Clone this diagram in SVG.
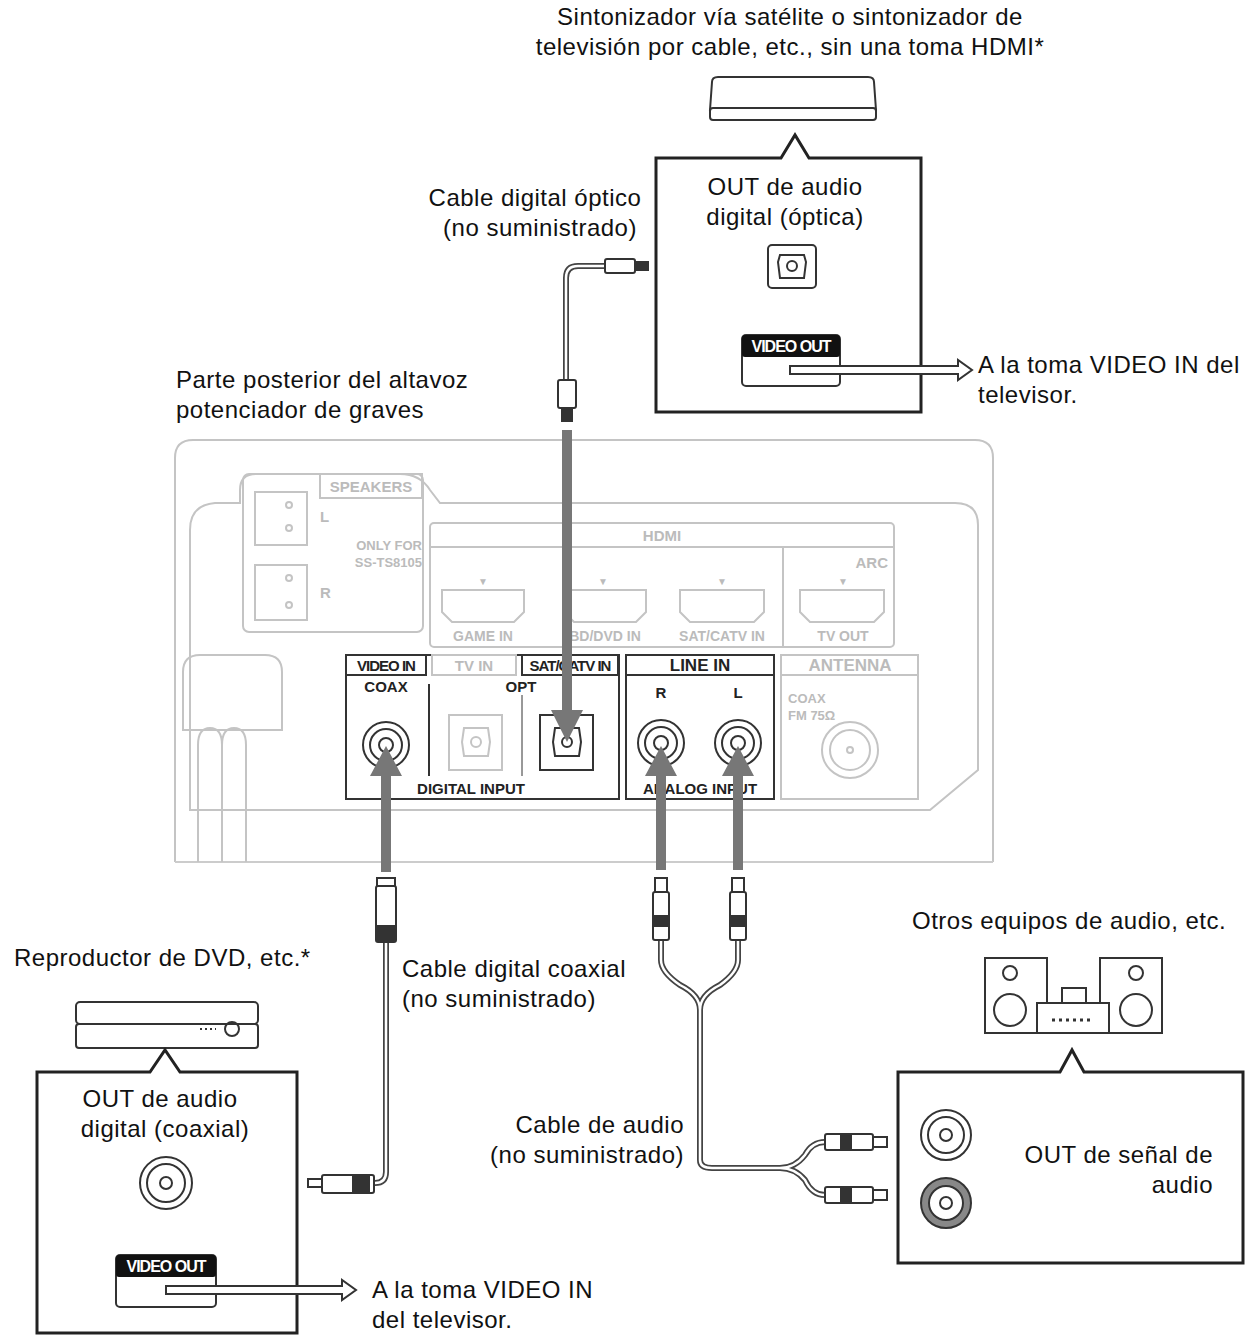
<svg xmlns="http://www.w3.org/2000/svg" width="1254" height="1343" viewBox="0 0 1254 1343">
<style>
.t{font-family:"Liberation Sans",Arial,sans-serif;font-size:24px;letter-spacing:0.5px;fill:#111}
.p{font-family:"Liberation Sans",Arial,sans-serif;font-size:15px;fill:#bbb;font-weight:bold}
.pd{font-family:"Liberation Sans",Arial,sans-serif;font-size:15px;fill:#222;font-weight:bold}
.box{fill:#fff;stroke:#222;stroke-width:3}
.lg{fill:none;stroke:#c4c4c4;stroke-width:2}
.ld{fill:none;stroke:#333;stroke-width:2}
.cab{fill:none;stroke:#444;stroke-width:6}
.cabi{fill:none;stroke:#fff;stroke-width:2.5}
.ga{stroke:#777;stroke-width:10;fill:none}
.gh{fill:#777}
.dev{fill:#fff;stroke:#333;stroke-width:2}
</style>
<rect width="1254" height="1343" fill="#fff"/>

<g id="labels">
<text class="t" x="790" y="25" text-anchor="middle">Sintonizador vía satélite o sintonizador de</text>
<text class="t" x="790" y="55" text-anchor="middle">televisión por cable, etc., sin una toma HDMI*</text>
<text class="t" x="535" y="206" text-anchor="middle">Cable digital óptico</text>
<text class="t" x="540" y="236" text-anchor="middle">(no suministrado)</text>
<text class="t" x="176" y="388">Parte posterior del altavoz</text>
<text class="t" x="176" y="418">potenciador de graves</text>
<text class="t" x="978" y="373">A la toma VIDEO IN del</text>
<text class="t" x="978" y="403">televisor.</text>
<text class="t" x="14" y="966">Reproductor de DVD, etc.*</text>
<text class="t" x="402" y="977">Cable digital coaxial</text>
<text class="t" x="402" y="1007">(no suministrado)</text>
<text class="t" x="912" y="929">Otros equipos de audio, etc.</text>
<text class="t" x="684" y="1133" text-anchor="end">Cable de audio</text>
<text class="t" x="684" y="1163" text-anchor="end">(no suministrado)</text>
<text class="t" x="372" y="1298">A la toma VIDEO IN</text>
<text class="t" x="372" y="1328">del televisor.</text>
</g>

<g id="tuner">
<path class="dev" d="M712,82 Q712,77 718,77 L868,77 Q874,77 874,82 L876,110 L710,110 Z"/>
<rect class="dev" x="710" y="108" width="166" height="12" rx="3"/>
<path class="box" d="M656,158 L781,158 L795,135 L809,158 L921,158 L921,412 L656,412 Z"/>
<text class="t" x="785" y="195" text-anchor="middle">OUT de audio</text>
<text class="t" x="785" y="225" text-anchor="middle">digital (óptica)</text>
<rect x="768" y="245" width="48" height="43" rx="4" fill="#fff" stroke="#333" stroke-width="2"/>
<path d="M780,255 L804,255 L806,262 L804,278 L780,278 L778,262 Z" fill="none" stroke="#333" stroke-width="2"/>
<circle cx="792" cy="266" r="5" fill="none" stroke="#333" stroke-width="2"/>
<rect x="742" y="335" width="98" height="51" rx="4" fill="#fff" stroke="#333" stroke-width="2"/>
<rect x="742" y="335" width="98" height="22" rx="3" fill="#111"/>
<text x="791" y="352" text-anchor="middle" style="font-family:'Liberation Sans',Arial,sans-serif;font-size:16px;font-weight:bold;fill:#fff;letter-spacing:-1px">VIDEO OUT</text>
</g>

<g id="dvd">
<rect class="dev" x="76" y="1002" width="182" height="22" rx="4"/>
<rect class="dev" x="76" y="1024" width="182" height="24" rx="3"/>
<circle cx="232" cy="1029" r="7" fill="none" stroke="#333" stroke-width="2"/>
<line x1="200" y1="1029" x2="216" y2="1029" stroke="#333" stroke-width="2" stroke-dasharray="2 3"/>
<path class="box" d="M37,1072 L150,1072 L165,1050 L180,1072 L297,1072 L297,1333 L37,1333 Z"/>
<text class="t" x="160" y="1107" text-anchor="middle">OUT de audio</text>
<text class="t" x="165" y="1137" text-anchor="middle">digital (coaxial)</text>
<circle cx="166" cy="1183" r="26" fill="none" stroke="#333" stroke-width="2"/>
<circle cx="166" cy="1183" r="19" fill="none" stroke="#333" stroke-width="2"/>
<circle cx="166" cy="1183" r="6" fill="none" stroke="#333" stroke-width="2"/>
<rect x="116" y="1255" width="100" height="52" rx="4" fill="#fff" stroke="#333" stroke-width="2"/>
<rect x="116" y="1255" width="100" height="22" rx="3" fill="#111"/>
<text x="166" y="1272" text-anchor="middle" style="font-family:'Liberation Sans',Arial,sans-serif;font-size:16px;font-weight:bold;fill:#fff;letter-spacing:-1px">VIDEO OUT</text>
</g>

<g id="audio">
<rect class="dev" x="985" y="958" width="62" height="75"/>
<rect class="dev" x="1100" y="958" width="62" height="75"/>
<circle cx="1010" cy="973" r="7" fill="none" stroke="#333" stroke-width="2"/>
<circle cx="1010" cy="1010" r="16" fill="none" stroke="#333" stroke-width="2"/>
<circle cx="1136" cy="973" r="7" fill="none" stroke="#333" stroke-width="2"/>
<circle cx="1136" cy="1010" r="16" fill="none" stroke="#333" stroke-width="2"/>
<rect class="dev" x="1037" y="1003" width="72" height="30"/>
<rect class="dev" x="1062" y="988" width="24" height="15"/>
<line x1="1052" y1="1020" x2="1092" y2="1020" stroke="#333" stroke-width="3" stroke-dasharray="3 4"/>
<path class="box" d="M898,1072 L1060,1072 L1072,1050 L1084,1072 L1243,1072 L1243,1263 L898,1263 Z"/>
<circle cx="946" cy="1135" r="25" fill="none" stroke="#333" stroke-width="2"/>
<circle cx="946" cy="1135" r="18" fill="none" stroke="#333" stroke-width="2"/>
<circle cx="946" cy="1135" r="6" fill="none" stroke="#333" stroke-width="2"/>
<circle cx="946" cy="1203" r="25" fill="#888" stroke="#333" stroke-width="2"/>
<circle cx="946" cy="1203" r="17" fill="#fff" stroke="#333" stroke-width="2"/>
<circle cx="946" cy="1203" r="6" fill="none" stroke="#333" stroke-width="2"/>
<text class="t" x="1213" y="1163" text-anchor="end">OUT de señal de</text>
<text class="t" x="1213" y="1193" text-anchor="end">audio</text>
</g>

<g id="subwoofer">
<path class="lg" d="M175,458 Q175,440 193,440 L975,440 Q993,440 993,458 L993,862"/>
<path class="lg" d="M175,458 L175,862"/>
<path class="lg" d="M190,530 Q190,505 215,503 L240,503 L240,490 Q240,474 256,474 L400,474 Q420,474 430,490 L440,503 L955,503 Q978,503 978,525 L978,770 L930,810 L190,810 Z"/>
<line x1="175" y1="862" x2="993" y2="862" stroke="#ccc" stroke-width="2"/>
<rect class="lg" x="243" y="474" width="180" height="158" rx="6"/>
<rect class="lg" x="320" y="474" width="102" height="24"/>
<text class="p" x="371" y="492" text-anchor="middle">SPEAKERS</text>
<path class="lg" d="M255,492 L307,492 L307,545 L255,545 Z"/>
<path class="lg" d="M255,565 L307,565 L307,620 L255,620 Z"/>
<circle cx="289" cy="505" r="3" class="lg"/><circle cx="289" cy="528" r="3" class="lg"/>
<circle cx="289" cy="578" r="3" class="lg"/><circle cx="289" cy="605" r="3" class="lg"/>
<text class="p" x="320" y="522">L</text>
<text class="p" x="320" y="598">R</text>
<text class="p" x="422" y="550" text-anchor="end" style="font-size:13px">ONLY FOR</text>
<text class="p" x="422" y="567" text-anchor="end" style="font-size:13px">SS-TS8105</text>
<rect class="lg" x="430" y="523" width="464" height="124" rx="4"/>
<line class="lg" x1="430" y1="547" x2="894" y2="547"/>
<line class="lg" x1="783" y1="547" x2="783" y2="647"/>
<text class="p" x="662" y="541" text-anchor="middle">HDMI</text>
<text class="p" x="888" y="568" text-anchor="end">ARC</text>
<g id="hdmi-ports">
<path class="lg" d="M442,590 L524,590 L524,612 L514,622 L452,622 L442,612 Z"/>
<path class="lg" d="M564,590 L646,590 L646,612 L636,622 L574,622 L564,612 Z"/>
<path class="lg" d="M680,590 L764,590 L764,612 L754,622 L690,622 L680,612 Z"/>
<path class="lg" d="M800,590 L884,590 L884,612 L874,622 L810,622 L800,612 Z"/>
<text class="p" x="483" y="585" text-anchor="middle" style="font-size:10px">▼</text>
<text class="p" x="603" y="585" text-anchor="middle" style="font-size:10px">▼</text>
<text class="p" x="722" y="585" text-anchor="middle" style="font-size:10px">▼</text>
<text class="p" x="843" y="585" text-anchor="middle" style="font-size:10px">▼</text>
<text class="p" x="483" y="641" text-anchor="middle" style="font-size:14px">GAME IN</text>
<text class="p" x="605" y="641" text-anchor="middle" style="font-size:14px">BD/DVD IN</text>
<text class="p" x="722" y="641" text-anchor="middle" style="font-size:14px">SAT/CATV IN</text>
<text class="p" x="843" y="641" text-anchor="middle" style="font-size:14px">TV OUT</text>
</g>
<path class="lg" d="M183,730 L183,672 Q183,655 200,655 L265,655 Q282,655 282,672 L282,730 Z"/>
<path d="M198,862 L198,745 Q198,728 210,728 Q222,728 222,745 L222,862" fill="none" stroke="#c4c4c4" stroke-width="2"/>
<path d="M222,862 L222,745 Q222,728 234,728 Q246,728 246,745 L246,862" fill="none" stroke="#c4c4c4" stroke-width="2"/>
<rect x="346" y="655" width="273" height="144" fill="none" stroke="#333" stroke-width="2"/>
<rect x="346" y="655" width="80" height="20" fill="none" stroke="#333" stroke-width="2"/>
<rect class="lg" x="432" y="655" width="84" height="20"/>
<rect x="522" y="655" width="96" height="20" fill="none" stroke="#333" stroke-width="2"/>
<text class="pd" x="386" y="671" text-anchor="middle" style="letter-spacing:-1px">VIDEO IN</text>
<text class="p" x="474" y="671" text-anchor="middle">TV IN</text>
<text class="pd" x="570" y="671" text-anchor="middle" style="letter-spacing:-1px">SAT/CATV IN</text>
<text class="pd" x="386" y="692" text-anchor="middle">COAX</text>
<text class="pd" x="521" y="692" text-anchor="middle">OPT</text>
<line x1="429" y1="684" x2="429" y2="776" stroke="#333" stroke-width="2"/>
<line x1="522" y1="695" x2="522" y2="776" stroke="#333" stroke-width="1"/>
<text class="pd" x="471" y="794" text-anchor="middle">DIGITAL INPUT</text>
<circle cx="386" cy="745" r="23" class="ld"/><circle cx="386" cy="745" r="16" class="ld"/><circle cx="386" cy="745" r="7" class="ld"/>
<rect class="lg" x="449" y="715" width="53" height="55"/>
<path class="lg" d="M464,728 L488,728 L490,742 L488,756 L464,756 L462,742 Z"/>
<circle cx="476" cy="742" r="5" class="lg"/>
<rect class="ld" x="540" y="715" width="53" height="55"/>
<path class="ld" d="M555,728 L579,728 L581,742 L579,756 L555,756 L553,742 Z"/>
<circle cx="567" cy="742" r="5" class="ld"/>
<rect x="626" y="655" width="148" height="144" fill="none" stroke="#333" stroke-width="2"/>
<line x1="626" y1="675" x2="774" y2="675" stroke="#333" stroke-width="2"/>
<text class="pd" x="700" y="671" text-anchor="middle" style="font-size:17px">LINE IN</text>
<text class="pd" x="661" y="698" text-anchor="middle">R</text>
<text class="pd" x="738" y="698" text-anchor="middle">L</text>
<text class="pd" x="700" y="794" text-anchor="middle">ANALOG INPUT</text>
<circle cx="661" cy="743" r="23" class="ld"/><circle cx="661" cy="743" r="16" class="ld"/><circle cx="661" cy="743" r="7" class="ld"/>
<circle cx="738" cy="743" r="23" class="ld"/><circle cx="738" cy="743" r="16" class="ld"/><circle cx="738" cy="743" r="7" class="ld"/>
<rect class="lg" x="781" y="655" width="137" height="144"/>
<line class="lg" x1="781" y1="675" x2="918" y2="675"/>
<text class="p" x="850" y="671" text-anchor="middle" style="font-size:17px">ANTENNA</text>
<text class="p" x="788" y="703" style="font-size:13px">COAX</text>
<text class="p" x="788" y="720" style="font-size:13px">FM 75Ω</text>
<circle cx="850" cy="750" r="28" class="lg"/><circle cx="850" cy="750" r="20" class="lg"/><circle cx="850" cy="750" r="3" class="lg"/>
</g>

<g id="connectors">
<g id="video-arrows" fill="#fff" stroke="#333" stroke-width="2">
<path d="M790,366 L958,366 L958,360 L972,370 L958,380 L958,374 L790,374 Z"/>
<path d="M166,1286 L342,1286 L342,1280 L356,1290 L342,1300 L342,1294 L166,1294 Z"/>
</g>
<path class="cab" d="M605,266 L578,266 Q566,266 566,278 L566,380"/>
<path class="cabi" d="M605,266 L578,266 Q566,266 566,278 L566,380"/>
<rect x="605" y="259" width="30" height="14" rx="2" fill="#fff" stroke="#333" stroke-width="2"/>
<rect x="635" y="261" width="14" height="10" fill="#333"/>
<rect x="558" y="380" width="18" height="28" rx="2" fill="#fff" stroke="#333" stroke-width="2"/>
<rect x="561" y="408" width="12" height="14" fill="#333"/>
<line class="ga" x1="567" y1="430" x2="567" y2="712"/>
<polygon class="gh" points="551,710 583,710 567,742"/>
<line class="ga" x1="386" y1="872" x2="386" y2="772"/>
<polygon class="gh" points="370,776 402,776 386,746"/>
<path class="cab" d="M386,942 L386,1172 Q386,1183 375,1183"/>
<path class="cabi" d="M386,942 L386,1172 Q386,1183 375,1183"/>
<rect x="377" y="878" width="18" height="8" fill="#fff" stroke="#333" stroke-width="2"/>
<rect x="376" y="886" width="20" height="56" rx="2" fill="#fff" stroke="#333" stroke-width="2"/>
<rect x="376" y="925" width="20" height="16" fill="#333"/>
<rect x="322" y="1175" width="52" height="18" rx="2" fill="#fff" stroke="#333" stroke-width="2"/>
<rect x="352" y="1175" width="18" height="18" fill="#333"/>
<rect x="308" y="1179" width="14" height="8" fill="#fff" stroke="#333" stroke-width="2"/>
<line class="ga" x1="661" y1="870" x2="661" y2="772"/>
<polygon class="gh" points="645,776 677,776 661,746"/>
<line class="ga" x1="738" y1="870" x2="738" y2="772"/>
<polygon class="gh" points="722,776 754,776 738,746"/>
<path class="cab" d="M661,940 L661,960 Q661,972 680,985 Q700,995 700,1010 M738,940 L738,960 Q738,972 720,985 Q700,995 700,1010 L700,1160 Q700,1168 712,1168 L780,1168 Q795,1168 805,1155 Q812,1142 825,1142 M780,1168 Q795,1168 805,1180 Q812,1195 825,1195"/>
<path class="cabi" d="M661,940 L661,960 Q661,972 680,985 Q700,995 700,1010 M738,940 L738,960 Q738,972 720,985 Q700,995 700,1010 L700,1160 Q700,1168 712,1168 L780,1168 Q795,1168 805,1155 Q812,1142 825,1142 M780,1168 Q795,1168 805,1180 Q812,1195 825,1195"/>
<g fill="#fff" stroke="#333" stroke-width="2">
<rect x="655" y="878" width="12" height="14"/>
<rect x="653" y="892" width="16" height="48" rx="2"/>
<rect x="732" y="878" width="12" height="14"/>
<rect x="730" y="892" width="16" height="48" rx="2"/>
<rect x="825" y="1134" width="48" height="16" rx="2"/>
<rect x="873" y="1137" width="14" height="10"/>
<rect x="825" y="1187" width="48" height="16" rx="2"/>
<rect x="873" y="1190" width="14" height="10"/>
</g>
<g fill="#333">
<rect x="653" y="915" width="16" height="12"/>
<rect x="730" y="915" width="16" height="12"/>
<rect x="840" y="1134" width="12" height="16"/>
<rect x="840" y="1187" width="12" height="16"/>
</g>
</g>
</svg>
